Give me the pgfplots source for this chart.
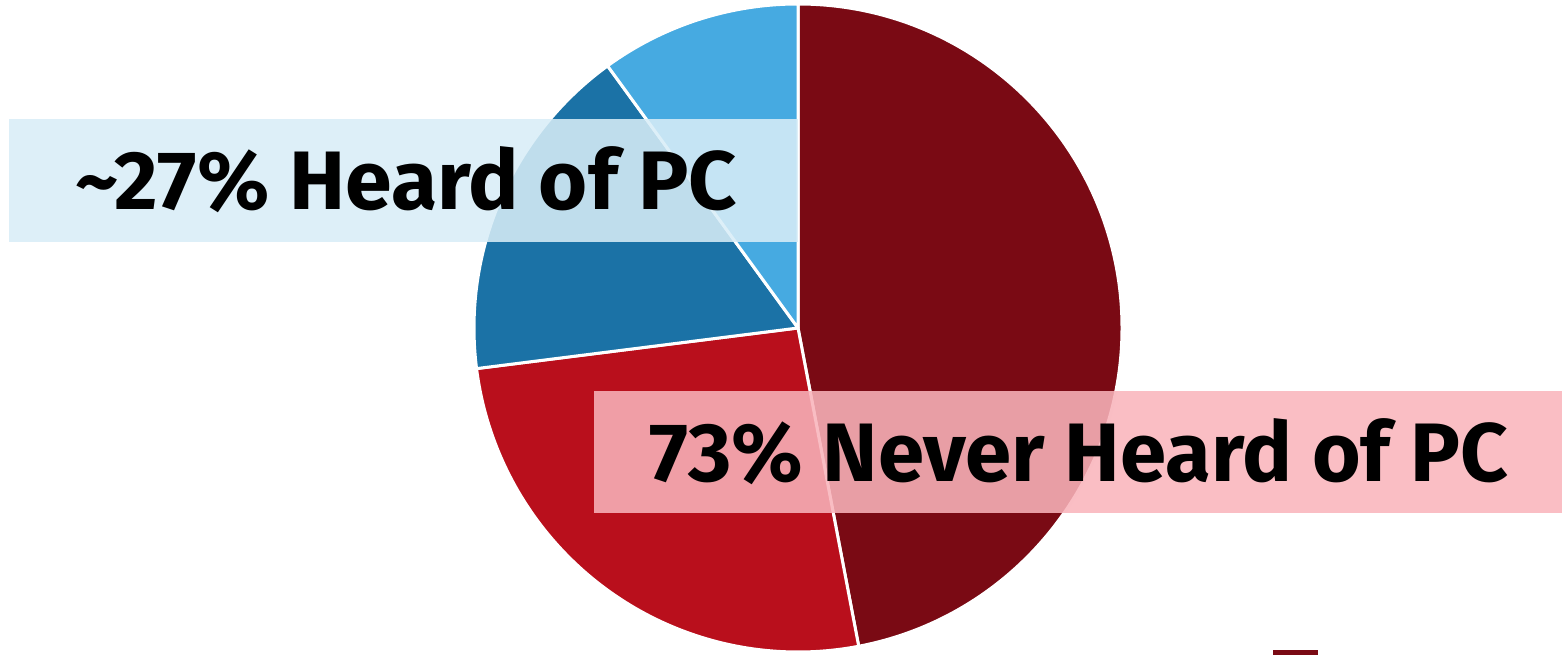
\documentclass[border=0pt]{standalone}
\usepackage{pgfplots}
\pgfplotsset{compat=1.18}
\usepackage{fontspec}
\setmainfont{Fira Sans}
\definecolor{pdarkred}{HTML}{7A0A14}
\definecolor{pred}{HTML}{B90F1C}
\definecolor{pdarkblue}{HTML}{1B72A6}
\definecolor{plightblue}{HTML}{46AAE1}
\definecolor{boxblue}{RGB}{216,237,247}
\definecolor{boxpink}{RGB}{249,180,187}
\begin{document}
\begin{tikzpicture}
\begin{axis}[hide axis, x=1mm, y=1mm, xmin=0, xmax=156.2, ymin=0, ymax=65.5,
  scale only axis, clip=true]
\path (axis cs:0,0) rectangle (axis cs:156.2,65.5);
\pgfplotsextra{
  \gdef\angstart{90}
  \foreach \v/\c in {47/pdarkred,26/pred,17/pdarkblue,10/plightblue}{
    \pgfmathsetmacro\angend{\angstart-3.6*\v}
    \fill[\c, draw=white, line width=0.3mm, line join=round]
      (axis cs:79.8,32.7) -- ++(\angstart:32.4mm)
      arc[start angle=\angstart, end angle=\angend, radius=32.4mm] -- cycle;
    \xdef\angstart{\angend}
  }
}
\fill[boxblue, opacity=0.87] (axis cs:0.9,41.3) rectangle (axis cs:79.8,53.6);
\fill[boxpink, opacity=0.87] (axis cs:59.4,14.2) rectangle (axis cs:156.2,26.4);
\node[anchor=base, inner sep=0pt, xscale=1.015, font=\fontsize{23.6pt}{25pt}\selectfont\bfseries]
  at (axis cs:40.6,44.5) {\textasciitilde27\% Heard of PC};
\node[anchor=base, inner sep=0pt, xscale=1.005, font=\fontsize{23.6pt}{25pt}\selectfont\bfseries]
  at (axis cs:107.9,17.3) {73\% Never Heard of PC};
\fill[pdarkred] (axis cs:127.3,0) rectangle (axis cs:131.8,0.5);
\end{axis}
\end{tikzpicture}
\end{document}
